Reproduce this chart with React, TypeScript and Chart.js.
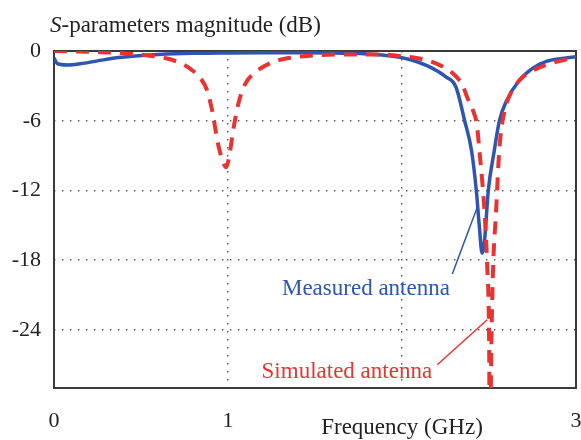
import React, { useEffect, useRef } from "react";
import { Chart, registerables } from "chart.js";

Chart.register(...registerables);

// Frequency (GHz) / magnitude (dB)
const measFreq = [0.0, 0.02, 0.08, 0.15, 0.25, 0.35, 0.45, 0.6, 0.8, 1.0, 1.2, 1.4, 1.6, 1.8, 1.95, 2.05, 2.15, 2.25, 2.31, 2.36, 2.4, 2.427, 2.445, 2.46, 2.475, 2.496, 2.53, 2.56, 2.6, 2.67, 2.75, 2.83, 2.92, 3.0];
const measDb = [-0.6, -1.1, -1.2, -1.1, -0.85, -0.6, -0.45, -0.3, -0.2, -0.17, -0.16, -0.16, -0.17, -0.25, -0.45, -0.75, -1.3, -2.2, -3.1, -6.0, -8.6, -12.0, -15.2, -17.4, -16.2, -12.0, -8.6, -6.0, -4.3, -2.6, -1.5, -0.9, -0.65, -0.5];

const simFreq = [0.0, 0.15, 0.3, 0.45, 0.55, 0.65, 0.72, 0.78, 0.84, 0.88, 0.91, 0.94, 0.97, 0.99, 1.01, 1.03, 1.06, 1.1, 1.16, 1.25, 1.35, 1.47, 1.68, 1.87, 2.0, 2.1, 2.2, 2.29, 2.35, 2.375, 2.41, 2.43, 2.445, 2.46, 2.475, 2.49, 2.5, 2.505, 2.515, 2.525, 2.54, 2.555, 2.565, 2.59, 2.62, 2.67, 2.75, 2.85, 2.95, 3.0];
const simDb = [0.0, -0.05, -0.12, -0.25, -0.4, -0.65, -1.0, -1.5, -2.3, -3.4, -5.2, -7.8, -9.5, -10.0, -8.8, -6.8, -4.5, -2.8, -1.8, -1.0, -0.6, -0.4, -0.3, -0.3, -0.45, -0.65, -1.1, -1.9, -3.0, -4.0, -5.2, -6.3, -8.6, -11.0, -14.0, -18.6, -24.0, -34.0, -24.0, -18.0, -14.0, -9.5, -7.5, -5.1, -3.8, -2.6, -1.7, -1.1, -0.7, -0.5];

const xTicks = [0, 1, 2, 3];
const xTickLabels = ["0", "1", "", "3"];
const yTicks = [-24, -18, -12, -6, 0];
const yTickLabels = ["-24", "-18", "-12", "-6", "0"];

const seriesNames = ["Simulated antenna", "Measured antenna"];
// annotation anchors in data units: [textX, textY, lineX1, lineY1, lineX2, lineY2]
const measNote = [1.31, -21.0, 2.289, -19.19, 2.433, -13.43];
const simNote = [1.193, -28.1, 2.203, -27.0, 2.49, -23.13];

const BLUE = "#2f55b2";
const RED = "#ea3330";
const FONT = "'Liberation Serif', 'Times New Roman', serif";

const framePlugin = {
  id: "frame",
  beforeDatasetsDraw(chart: any) {
    const { ctx, chartArea: a } = chart;
    ctx.save();
    ctx.strokeStyle = "#3a3a3a";
    ctx.lineWidth = 2;
    ctx.strokeRect(a.left, a.top, a.right - a.left, a.bottom - a.top);
    ctx.restore();
  },
  afterDraw(chart: any) {
    const { ctx, chartArea: a, scales } = chart;
    const sx = scales.x, sy = scales.y;
    ctx.save();
    // title
    ctx.fillStyle = "#222";
    ctx.textBaseline = "alphabetic";
    ctx.textAlign = "left";
    ctx.font = `italic 23px ${FONT}`;
    const tx = a.left - 4;
    const ty = a.top - 19;
    ctx.fillText("S", tx, ty);
    const w = ctx.measureText("S").width;
    ctx.font = `23px ${FONT}`;
    ctx.fillText("-parameters magnitude (dB)", tx + w, ty);
    // x axis title
    ctx.textAlign = "center";
    ctx.fillText("Frequency (GHz)", sx.getPixelForValue(2), a.bottom + 46);
    // annotations
    const notes: [number[], string, string][] = [
      [measNote, seriesNames[1], BLUE],
      [simNote, seriesNames[0], RED],
    ];
    for (const [n, label, col] of notes) {
      ctx.fillStyle = col;
      ctx.strokeStyle = col;
      ctx.textAlign = "left";
      ctx.font = `23px ${FONT}`;
      ctx.fillText(label, sx.getPixelForValue(n[0]), sy.getPixelForValue(n[1]));
      ctx.lineWidth = 1.5;
      ctx.beginPath();
      ctx.moveTo(sx.getPixelForValue(n[2]), sy.getPixelForValue(n[3]));
      ctx.lineTo(sx.getPixelForValue(n[4]), sy.getPixelForValue(n[5]));
      ctx.stroke();
    }
    ctx.restore();
  },
};

export default function App() {
  const ref = useRef<HTMLCanvasElement | null>(null);
  useEffect(() => {
    if (!ref.current) return;
    const chart = new Chart(ref.current, {
      type: "line",
      data: {
        datasets: [
          {
            label: seriesNames[0],
            data: simFreq.map((f, i) => ({ x: f, y: simDb[i] })),
            borderColor: RED,
            borderWidth: 4,
            borderDash: [13, 9],
            pointRadius: 0,
            cubicInterpolationMode: "monotone",
            fill: false,
          },
          {
            label: seriesNames[1],
            data: measFreq.map((f, i) => ({ x: f, y: measDb[i] })),
            borderColor: BLUE,
            borderWidth: 3.5,
            pointRadius: 0,
            cubicInterpolationMode: "monotone",
            fill: false,
          },
        ],
      },
      options: {
        responsive: false,
        animation: false,
        layout: { padding: { top: 51, right: 5, left: 0, bottom: 0 } },
        plugins: { legend: { display: false }, tooltip: { enabled: false }, title: { display: false } },
        scales: {
          x: {
            type: "linear",
            min: 0,
            max: 3,
            afterBuildTicks: (s: any) => {
              s.ticks = xTicks.map((v) => ({ value: v }));
            },
            afterFit: (s: any) => {
              s.height = 52;
              s.paddingLeft = 0;
              s.paddingRight = 0;
            },
            ticks: {
              autoSkip: false,
              maxRotation: 0,
              padding: 20,
              color: "#222",
              font: { family: FONT, size: 22 },
              callback: (v: any) => xTickLabels[xTicks.indexOf(Number(v))] ?? "",
            },
            grid: {
              drawTicks: false,
              lineWidth: 1.4,
              color: (c: any) => (c.tick && (c.tick.value === 0 || c.tick.value === 3) ? "rgba(0,0,0,0)" : "#555"),
            },
            border: { display: false, dash: [1.4, 6.6] },
          },
          y: {
            type: "linear",
            min: -29,
            max: 0,
            afterBuildTicks: (s: any) => {
              s.ticks = yTicks.map((v) => ({ value: v }));
            },
            afterFit: (s: any) => {
              s.width = 54;
              s.paddingTop = 0;
              s.paddingBottom = 0;
            },
            ticks: {
              autoSkip: false,
              padding: 13,
              color: "#222",
              font: { family: FONT, size: 22 },
              callback: (v: any) => yTickLabels[yTicks.indexOf(Number(v))] ?? "",
            },
            grid: {
              drawTicks: false,
              lineWidth: 1.4,
              color: (c: any) => (c.tick && c.tick.value === 0 ? "rgba(0,0,0,0)" : "#555"),
            },
            border: { display: false, dash: [1.4, 6.6] },
          },
        },
      },
      plugins: [framePlugin],
    });
    return () => chart.destroy();
  }, []);
  return (
    <div style={{ position: "fixed", left: 0, top: 0, width: 581, height: 440, background: "#fff" }}>
      <canvas ref={ref} width={581} height={440} />
    </div>
  );
}
